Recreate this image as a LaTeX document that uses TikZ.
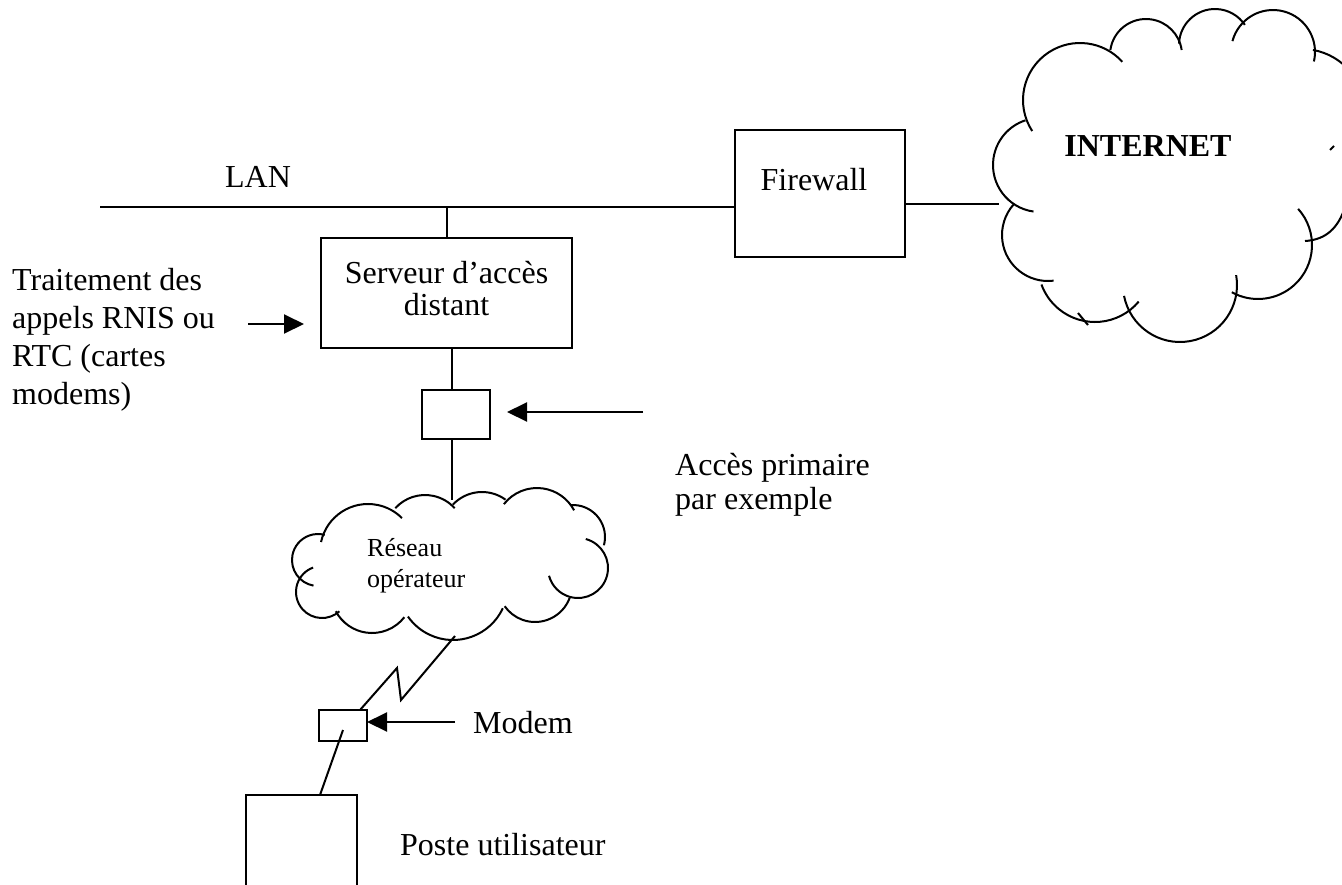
\documentclass[tikz,border=0pt]{standalone}
\usepackage{fontspec}
\setmainfont{Liberation Serif}
\usetikzlibrary{arrows.meta}

% one lobe of a cloud outline: centre x, centre y, radius, start angle, end angle
\newcommand\cloudlobe[5]{\draw[cloudline] (#1,#2) ++(#4:#3) arc[start angle=#4,end angle=#5,radius=#3];}

\tikzset{
  wire/.style={line width=2pt},
  cloudline/.style={line width=2pt},
  box/.style={draw, line width=2pt, inner sep=0pt, outer sep=0pt},
  pointer/.style={line width=2pt, -{Triangle[length=20pt,width=19pt]}},
  txt/.style={font=\fontsize{32}{37}\selectfont, inner sep=0pt},
  txtw/.style={txt, anchor=base west},
  txtc/.style={txt, anchor=base},
  small/.style={font=\fontsize{26}{31}\selectfont, inner sep=0pt, anchor=base west},
}

\begin{document}
\begin{tikzpicture}[x=1pt,y=-1pt]
\useasboundingbox (0,0) rectangle (1342,884);
\clip (0,0) rectangle (1342,884);
\fill[white] (0,0) rectangle (1342,884);

% ---- boxes ----
\node[box, minimum width=170pt, minimum height=127pt] (firewall) at (820,193.5) {};
\node[box, minimum width=251pt, minimum height=110pt] (server) at (446.5,293) {};
\node[box, minimum width=68pt, minimum height=49pt] (pri) at (456,414.5) {};
\node[box, minimum width=48pt, minimum height=31pt] (modem) at (343,725.5) {};
\node[box, minimum width=111pt, minimum height=140pt] (pc) at (301.5,865) {};

% ---- texts ----
\node[txtc] (lanlbl) at (258,187) {LAN};
\node[txtc] (fwlbl) at (814,190) {Firewall};
\node[txtc] (srv1) at (446.5,283) {Serveur d’accès};
\node[txtc] (srv2) at (446.5,315) {distant};
\node[txtw] (tr1) at (12,290) {Traitement des};
\node[txtw] (tr2) at (12,328) {appels RNIS ou};
\node[txtw] (tr3) at (12,366) {RTC (cartes};
\node[txtw] (tr4) at (12,404) {modems)};
\node[txtw] (ap1) at (675,475) {Accès primaire};
\node[txtw] (ap2) at (675,509) {par exemple};
\node[txtw] (mdlbl) at (473,733) {Modem};
\node[txtw] (pclbl) at (400,855) {Poste utilisateur};
\node[txtc, font=\fontsize{32}{37}\selectfont\bfseries] (inet) at (1148,156) {INTERNET};
\node[small] (op1) at (367,556.5) {Réseau};
\node[small] (op2) at (367,587) {opérateur};

% ---- Internet cloud ----
\cloudlobe{1080}{100}{57}{147}{318}
\cloudlobe{1146}{55}{36}{188}{352}
\cloudlobe{1215}{45}{36}{182}{326}
\cloudlobe{1273}{52}{42}{195}{373}
\cloudlobe{1302}{112}{63}{280}{360}
\draw[cloudline] (1330,150) -- (1334,146);
\draw[cloudline] (1344,210) .. controls (1336,232) and (1322,240) .. (1305,241);
\cloudlobe{1258}{245}{54}{-42}{119}
\cloudlobe{1180}{285}{57}{-10}{169}
\cloudlobe{1095}{265}{57}{40}{160}
\draw[cloudline] (1078,313) -- (1088,325);
\cloudlobe{1048}{235}{46}{83}{221}
\cloudlobe{1040}{165}{47}{98}{252}

% ---- operator network cloud ----
\cloudlobe{368}{552}{48}{192}{315}
\cloudlobe{425}{535}{40}{222}{318}
\cloudlobe{482}{532}{40}{223}{306}
\cloudlobe{537}{530}{42}{218}{332}
\cloudlobe{573}{537}{32}{265}{375}
\cloudlobe{578}{568}{30}{-75}{165}
\cloudlobe{535}{585}{37}{20}{145}
\cloudlobe{453}{585}{55}{25}{145}
\cloudlobe{372}{592}{41}{38}{152}
\cloudlobe{322}{592}{26}{48}{250}
\cloudlobe{318}{560}{26}{100}{285}

% ---- free ends of connectors ----
\coordinate (lanL) at (100,207);
\coordinate (lanT) at (446.5,207);
\coordinate (inetL) at (999,204);
\coordinate (srvDrop) at (452,348);
\coordinate (opTop) at (452,500);
\coordinate (opBot) at (455,636);
\coordinate (zz1) at (401,700);
\coordinate (zz2) at (397,668);
\coordinate (mdTop) at (360,710);
\coordinate (mdIn) at (343,730);
\coordinate (pcTop) at (320,795);
\coordinate (trTail) at (248,324);
\coordinate (trTip) at (304,324);
\coordinate (apTail) at (643,412);
\coordinate (apTip) at (507,412);
\coordinate (mdTail) at (455,722);

% ---- links ----
\draw[wire] (lanL) -- (lanL -| firewall.west);
\draw[wire] (lanT) -- (server.north);
\draw[wire] (firewall.east |- inetL) -- (inetL);
\draw[wire] (srvDrop) -- (srvDrop |- pri.north);
\draw[wire] (srvDrop |- pri.south) -- (opTop);
\draw[wire] (opBot) -- (zz1) -- (zz2) -- (mdTop);
\draw[wire] (mdIn) -- (pcTop);

% ---- pointers ----
\draw[pointer] (trTail) -- (trTip);
\draw[pointer] (apTail) -- (apTip);
\draw[pointer] (mdTail) -- (modem.east |- mdTail);
\end{tikzpicture}
\end{document}
